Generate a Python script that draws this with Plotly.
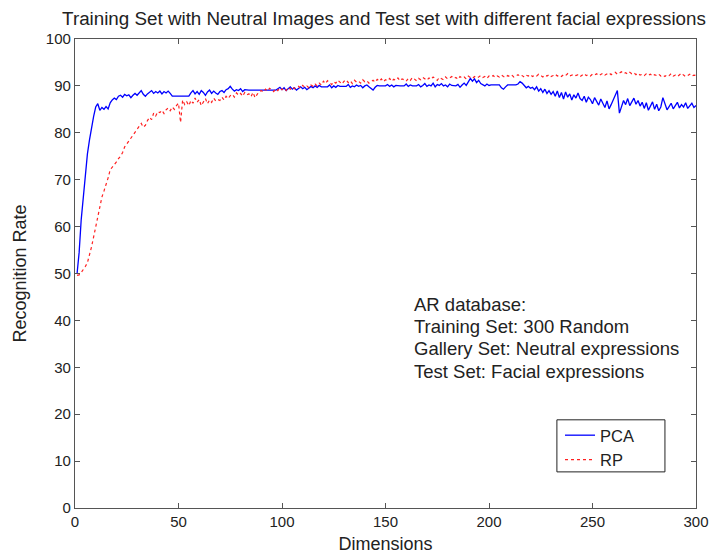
import plotly.graph_objects as go

dims = list(range(1, 301))

pca = [
    50.0, 54.5, 61.5, 66.5, 71.5, 75.5, 78.5, 81.5, 83.5, 85.5,
    86.2, 84.8, 85.4, 85.0, 85.6, 85.1, 86.4, 87.0, 87.4, 87.1,
    87.8, 88.0, 87.6, 88.2, 87.9, 88.1, 87.5, 88.0, 88.4, 88.0,
    88.6, 89.0, 88.2, 87.8, 88.3, 88.7, 89.0, 88.4, 88.8, 88.5,
    88.9, 88.3, 88.8, 88.5, 88.9, 88.4, 87.8, 87.8, 87.8, 87.8,
    87.8, 87.8, 87.8, 87.8, 87.8, 88.5, 89.0, 88.3, 88.8, 88.2,
    89.0, 88.6, 88.0, 88.7, 89.1, 88.4, 88.9, 88.5, 88.2, 88.8,
    89.0, 88.6, 89.2, 89.4, 89.9, 89.3, 88.9, 89.2, 89.0, 89.4,
    88.8, 89.2, 89.1, 89.1, 89.1, 89.1, 89.1, 89.1, 89.1, 89.1,
    89.1, 89.1, 89.1, 89.1, 89.1, 89.1, 89.1, 89.4, 89.7, 89.2,
    89.6, 89.0, 89.5, 89.8, 89.3, 89.6, 89.1, 89.5, 89.8, 89.4,
    89.7, 89.2, 89.6, 89.9, 89.6, 90.0, 89.7, 90.1, 89.8, 89.8,
    89.8, 89.8, 90.2, 89.6, 90.0, 89.7, 90.1, 89.9, 89.9, 89.9,
    89.9, 90.3, 89.7, 90.0, 89.8, 90.2, 89.9, 90.1, 89.6, 90.0,
    90.2, 89.8, 89.4, 89.1, 89.7, 90.1, 90.0, 90.0, 90.0, 90.0,
    90.3, 89.9, 90.2, 89.8, 90.1, 90.0, 90.0, 90.0, 90.0, 90.4,
    89.9, 90.2, 90.0, 90.0, 90.0, 90.3, 89.8, 90.1, 90.5, 89.9,
    90.2, 90.0, 90.6, 89.8, 90.3, 90.1, 90.5, 90.0, 90.2, 89.8,
    90.4, 90.1, 90.0, 90.0, 90.3, 89.7, 90.2, 90.6, 90.1, 90.8,
    91.6, 91.0, 91.5, 90.7, 91.2, 90.5, 90.3, 90.0, 90.4, 90.1,
    90.2, 90.2, 90.2, 90.2, 90.2, 89.6, 89.3, 89.8, 90.2, 90.2,
    90.2, 90.2, 90.2, 90.4, 90.9, 90.6, 90.2, 89.6, 89.9, 89.5,
    89.7, 89.2, 89.8, 88.9, 89.4, 88.6, 89.3, 88.4, 89.0, 88.2,
    88.8, 87.8, 88.9, 87.5, 88.6, 87.2, 88.7, 87.6, 88.3, 87.0,
    88.1, 87.4, 88.5, 87.3, 86.9, 87.8, 86.5, 87.6, 87.1, 86.2,
    87.5, 86.8, 85.9, 87.2, 86.3, 85.4, 86.8, 85.1, 86.0, 87.0,
    88.2, 89.0, 84.2, 85.5, 86.9, 86.0, 87.3, 85.8, 86.6, 87.4,
    86.1, 86.9, 85.7, 86.5, 85.2, 86.4, 84.8, 85.9, 86.6, 85.0,
    86.1, 84.7, 85.5, 87.5, 86.0, 84.9, 85.6, 86.3, 85.1, 85.8,
    86.5, 85.3, 86.0, 85.5, 86.4, 85.2, 85.9, 86.3, 85.4, 85.8,
]

rp = [
    49.6, 49.7, 50.2, 50.8, 51.5, 52.3, 53.8, 55.7, 57.8, 60.0,
    62.3, 64.5, 66.3, 67.6, 68.8, 70.4, 72.1, 72.6, 73.1, 73.8,
    74.5, 75.0, 75.8, 77.0, 77.6, 78.2, 79.0, 79.4, 80.2, 80.6,
    81.3, 82.0, 81.2, 81.6, 82.6, 83.3, 82.8, 84.2, 83.6, 84.5,
    84.3, 84.8, 84.1, 84.9, 85.3, 84.7, 85.5, 85.0, 85.8, 86.3,
    82.2, 87.0, 86.0, 86.6, 85.8, 86.9, 86.3, 87.4, 86.5, 87.1,
    85.8, 86.6, 87.3, 86.2, 87.0, 86.5, 87.4, 86.8, 87.1, 86.9,
    87.6, 87.0, 87.8, 87.3, 87.9, 88.2, 87.6, 88.5, 88.0, 88.4,
    87.8, 88.6, 88.1, 88.3, 87.7, 88.6, 87.5, 88.2, 88.8, 89.0,
    88.7, 89.3, 88.9, 89.5, 89.1, 88.8, 89.4, 89.0, 89.6, 89.2,
    89.5, 89.0, 89.7, 89.3, 89.8, 89.4, 89.6, 89.9, 89.5, 90.1,
    89.7, 90.0, 89.6, 90.2, 89.9, 90.4, 90.0, 90.6, 90.2, 91.0,
    90.5, 91.1, 90.7, 90.3, 90.9, 90.6, 91.2, 90.8, 90.4, 91.0,
    91.3, 90.7, 91.1, 90.5, 91.2, 90.8, 91.0, 90.6, 91.3, 90.9,
    91.1, 90.6, 90.9, 91.2, 90.8, 91.4, 91.0, 91.5, 90.9, 91.3,
    91.1, 91.6, 91.0, 91.4, 91.2, 91.7, 91.1, 91.5, 91.3, 91.0,
    91.6, 91.2, 91.8, 91.4, 91.1, 91.6, 91.3, 91.8, 91.5, 91.2,
    91.7, 91.4, 91.9, 91.5, 91.2, 91.8, 91.6, 91.3, 91.9, 91.5,
    91.7, 92.0, 91.6, 91.8, 91.4, 92.0, 91.7, 91.9, 91.5, 92.1,
    91.8, 91.6, 92.0, 91.7, 91.9, 92.2, 91.8, 92.0, 91.6, 92.1,
    91.9, 92.2, 91.8, 92.1, 91.9, 92.3, 92.0, 91.8, 92.2, 92.0,
    92.3, 91.9, 92.1, 92.4, 92.0, 92.2, 91.9, 92.3, 92.1, 92.4,
    92.0, 92.3, 92.1, 92.5, 92.2, 91.9, 92.3, 92.1, 92.4, 92.0,
    92.2, 92.5, 92.1, 92.3, 92.0, 92.4, 92.2, 92.6, 92.1, 92.3,
    92.5, 92.2, 92.4, 92.0, 92.3, 92.6, 92.2, 92.4, 92.1, 92.5,
    92.3, 92.6, 92.2, 92.4, 92.7, 92.3, 92.5, 92.8, 92.4, 92.6,
    92.9, 92.5, 92.7, 93.0, 92.6, 92.8, 92.5, 92.9, 92.6, 92.8,
    92.4, 92.7, 92.3, 92.5, 92.2, 92.6, 92.3, 92.5, 92.1, 92.4,
    92.2, 92.5, 92.1, 92.3, 92.0, 92.4, 92.2, 92.6, 92.1, 92.3,
    92.0, 92.4, 92.7, 92.3, 92.0, 92.2, 92.5, 92.1, 92.3, 92.2,
]

x_ticks = [0, 50, 100, 150, 200, 250, 300]
y_ticks = [0, 10, 20, 30, 40, 50, 60, 70, 80, 90, 100]
title_text = "Training Set with Neutral Images and Test set with different facial expressions"
info_lines = ["AR database:", "Training Set: 300 Random",
              "Gallery Set: Neutral expressions", "Test Set: Facial expressions"]

FONT = "Liberation Sans, Arial, sans-serif"
TXT = "#222222"
AX = "#555555"

fig = go.Figure()
fig.add_trace(go.Scatter(x=dims, y=pca, mode="lines", name="PCA",
                         line=dict(color="#0000ff", width=1.3)))
fig.add_trace(go.Scatter(x=dims, y=rp, mode="lines", name="RP",
                         line=dict(color="#ff2020", width=1.2, dash="3px,3px")))

# info text block
line_ys = [43.4, 38.7, 34.0, 29.2]
for t, yv in zip(info_lines, line_ys):
    fig.add_annotation(x=163, y=yv, xref="x", yref="y", text=t, showarrow=False,
                       xanchor="left", yanchor="middle",
                       font=dict(family=FONT, size=18.5, color=TXT))

# legend frame
fig.add_shape(type="rect", xref="paper", yref="paper",
              x0=0.776, x1=0.950, y0=0.077, y1=0.188,
              line=dict(color="#222222", width=1), fillcolor="white", layer="above")

fig.update_layout(
    width=709, height=554,
    margin=dict(l=75, r=13, t=39, b=46, autoexpand=False),
    paper_bgcolor="white", plot_bgcolor="white",
    title=dict(text=title_text, x=0.5416, xanchor="center", y=0.9675, yanchor="middle",
               font=dict(family=FONT, size=18.8, color=TXT)),
    showlegend=True,
    legend=dict(x=0.781, y=0.192, xanchor="left", yanchor="top",
                bgcolor="rgba(0,0,0,0)", borderwidth=0,
                font=dict(family=FONT, size=16.5, color=TXT),
                tracegroupgap=0, itemwidth=30),
    xaxis=dict(range=[0, 300], tickvals=x_ticks, ticks="inside", ticklen=5,
               tickcolor=AX, showline=True, linecolor=AX, linewidth=1.3,
               mirror="allticks", showgrid=False, zeroline=False, automargin=False,
               tickfont=dict(family=FONT, size=15, color=TXT),
               title=dict(text="Dimensions", standoff=8,
                          font=dict(family=FONT, size=18, color=TXT))),
    yaxis=dict(range=[0, 100], tickvals=y_ticks, ticks="inside", ticklen=5,
               tickcolor=AX, showline=True, linecolor=AX, linewidth=1.3,
               mirror="allticks", showgrid=False, zeroline=False, automargin=False,
               tickfont=dict(family=FONT, size=15, color=TXT),
               title=dict(text="Recognition Rate", standoff=14,
                          font=dict(family=FONT, size=18, color=TXT))),
)

fig.write_html("out.html", config={"displayModeBar": False},
               post_script="document.body.style.margin='0';document.body.style.overflow='hidden';")
